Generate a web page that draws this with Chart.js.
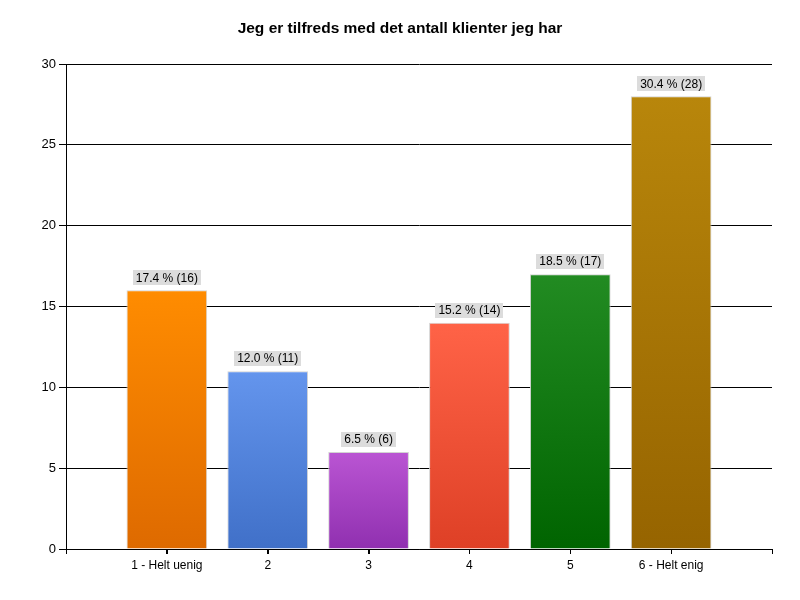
<!DOCTYPE html>
<html>
<head>
<meta charset="utf-8">
<script src="https://cdn.jsdelivr.net/npm/chart.js@4"></script>
<style>
  html, body { margin: 0; padding: 0; background: #fff; }
  #wrap { width: 800px; height: 600px; }
</style>
</head>
<body>
<div id="wrap"><canvas id="chart" width="800" height="600"></canvas></div>
<script>
// 数据 (x 轴位置 0..7，柱子在 1..6)
const categories = ['', '1 - Helt uenig', '2', '3', '4', '5', '6 - Helt enig', ''];
const counts = [null, 16, 11, 6, 14, 17, 28, null];
const percents = [null, '17.4', '12.0', '6.5', '15.2', '18.5', '30.4', null];
const yTicks = [0, 5, 10, 15, 20, 25, 30];

// 每根柱子的渐变色 (顶部, 底部)
const topColors = [null, '#FF8C00', '#6495ED', '#BA55D3', '#FF6347', '#228B22', '#B8860B', null];
const bottomColors = [null, '#DE6A00', '#4070C8', '#9030B0', '#DE4026', '#006400', '#966400', null];

const FONT = "'Liberation Sans', Arial, sans-serif";

// 柱子数据点
const points = [];
counts.forEach((v, i) => { if (v != null) points.push({ x: i, y: v }); });

/**
 * 按柱子自身高度生成渐变
 */
function barGradient(context) {
  const chart = context.chart;
  const p = points[context.dataIndex];
  if (!p) return '#000';
  if (!chart.chartArea) return topColors[p.x];
  const y = chart.scales.y;
  const top = y.getPixelForValue(p.y);
  const base = y.getPixelForValue(0);
  const g = chart.ctx.createLinearGradient(0, top, 0, base);
  g.addColorStop(0, topColors[p.x]);
  g.addColorStop(1, bottomColors[p.x]);
  return g;
}

// 柱顶标签插件
const valueLabels = {
  id: 'valueLabels',
  afterDatasetsDraw(chart) {
    const ctx = chart.ctx;
    const meta = chart.getDatasetMeta(0);
    ctx.save();
    ctx.font = '12px ' + FONT;
    ctx.textAlign = 'center';
    ctx.textBaseline = 'middle';
    meta.data.forEach((bar, k) => {
      const p = points[k];
      const text = percents[p.x] + ' % (' + p.y + ')';
      const w = ctx.measureText(text).width + 6;
      const h = 15;
      const boxBottom = bar.y - 5;
      ctx.fillStyle = '#DCDCDC';
      ctx.fillRect(Math.round(bar.x - w / 2), Math.round(boxBottom - h), Math.round(w), h);
      ctx.fillStyle = '#000';
      ctx.fillText(text, bar.x, boxBottom - h / 2 + 0.5);
    });
    ctx.restore();
  }
};

// x 轴刻度线插件（每个类别位置一条）
const xTickMarks = {
  id: 'xTickMarks',
  afterDraw(chart) {
    const ctx = chart.ctx;
    const xs = chart.scales.x;
    const base = Math.round(chart.chartArea.bottom);
    ctx.save();
    ctx.strokeStyle = '#000';
    ctx.lineWidth = 1;
    ctx.beginPath();
    categories.forEach((c, i) => {
      const px = Math.round(xs.getPixelForValue(i)) + 0.5;
      ctx.moveTo(px, base);
      ctx.lineTo(px, base + 5);
    });
    ctx.stroke();
    ctx.restore();
  }
};

new Chart(document.getElementById('chart'), {
  type: 'bar',
  data: {
    datasets: [{
      data: points,
      backgroundColor: barGradient,
      borderColor: '#D3D3D3',
      borderWidth: 1,
      borderSkipped: 'bottom',
      categoryPercentage: 1,
      barPercentage: 0.8
    }]
  },
  options: {
    responsive: false,
    animation: false,
    layout: { padding: { left: 28, right: 28, top: 0, bottom: 0 } },
    plugins: {
      legend: { display: false },
      tooltip: { enabled: false },
      title: {
        display: true,
        text: 'Jeg er tilfreds med det antall klienter jeg har',
        color: '#000',
        font: { family: FONT, size: 15.5, weight: 'bold', lineHeight: 1.2 },
        padding: { top: 19, bottom: 26.4 }
      }
    },
    scales: {
      x: {
        type: 'linear',
        min: 0,
        max: categories.length - 1,
        offset: false,
        afterBuildTicks(scale) { scale.ticks = categories.map((c, i) => ({ value: i })); },
        grid: { offset: false, drawOnChartArea: false, drawTicks: true, tickLength: 5, color: '#000' },
        border: { color: '#000', z: 1 },
        ticks: {
          color: '#000',
          font: { family: FONT, size: 12 },
          autoSkip: false,
          maxRotation: 0,
          padding: 4,
          callback: (value) => categories[value]
        },
        afterFit(scale) { scale.height = 51; }
      },
      y: {
        min: 0,
        max: 30,
        afterBuildTicks(scale) { scale.ticks = yTicks.map(v => ({ value: v })); },
        grid: { color: '#000', tickLength: 7 },
        border: { color: '#000' },
        ticks: {
          color: '#000',
          font: { family: FONT, size: 13 },
          padding: 3
        },
        afterFit(scale) { scale.width = 38; }
      }
    }
  },
  plugins: [valueLabels, xTickMarks]
});
</script>
</body>
</html>
